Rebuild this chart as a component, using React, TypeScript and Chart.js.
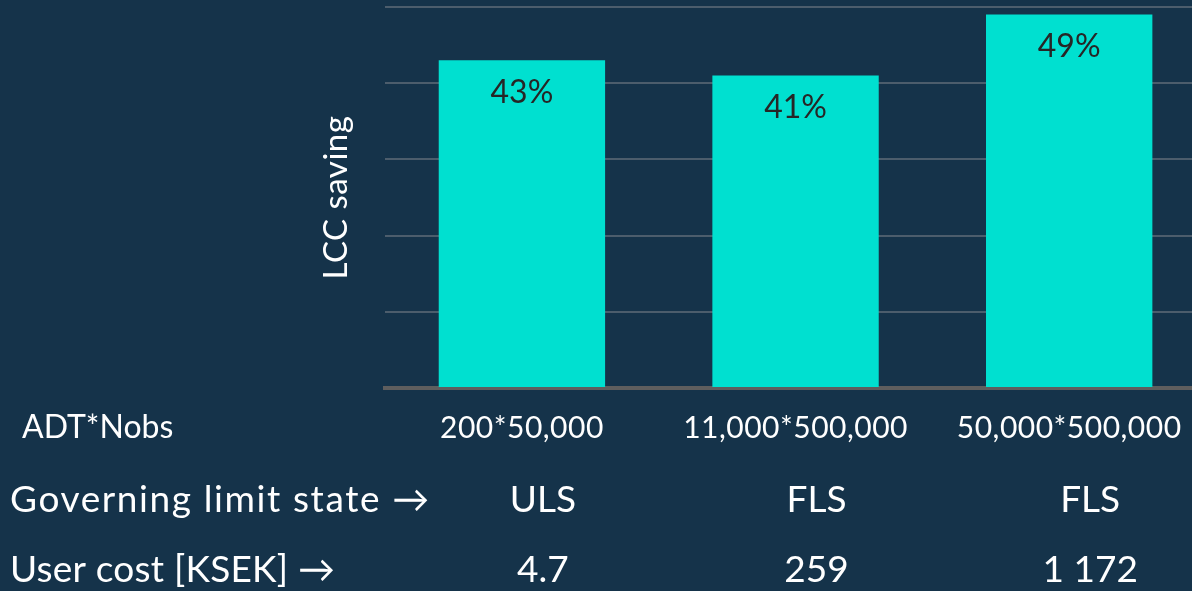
import React, { useEffect, useRef } from "react";
import { Chart, registerables } from "chart.js";

Chart.register(...registerables);

const categories = ["200*50,000", "11,000*500,000", "50,000*500,000"];
const lccSaving = [43, 41, 49];
const rowTitles = ["ADT*Nobs", "Governing limit state \u2192", "User cost [KSEK] \u2192"];
const governingLimitState = ["ULS", "FLS", "FLS"];
const userCost = ["4.7", "259", "1 172"];
const yTicks = [0, 10, 20, 30, 40, 50];

const BG = "#15334a";
const BAR = "#00e0d0";
const FONT = "Lato, 'Open Sans', sans-serif";

export default function App() {
  const ref = useRef<HTMLCanvasElement | null>(null);

  useEffect(() => {
    document.body.style.margin = "0";
    document.body.style.background = BG;
    const canvas = ref.current;
    if (!canvas) return;

    const tablePlugin = {
      id: "tablePlugin",
      beforeDraw(chart: any) {
        (chart.ctx as any).letterSpacing = "0.5px";
      },
      afterDatasetsDraw(chart: any) {
        const ctx = chart.ctx;
        const meta = chart.getDatasetMeta(0);
        ctx.save();
        ctx.letterSpacing = "0px";
        ctx.fillStyle = "#262626";
        ctx.font = `32px ${FONT}`;
        ctx.textAlign = "center";
        ctx.textBaseline = "middle";
        meta.data.forEach((bar: any, i: number) => {
          ctx.fillText(`${lccSaving[i]}%`, bar.x, bar.y + 32);
        });
        ctx.restore();
      },
      afterDraw(chart: any) {
        const ctx = chart.ctx;
        const xs = chart.scales.x;
        ctx.save();
        ctx.fillStyle = "#ffffff";
        ctx.textBaseline = "middle";
        ctx.textAlign = "left";
        ctx.letterSpacing = "0px";
        ctx.font = `32px ${FONT}`;
        ctx.fillText(rowTitles[0], 22, 428);
        ctx.font = `37px ${FONT}`;
        ctx.letterSpacing = "1.6px";
        ctx.fillText(rowTitles[1], 10, 500);
        ctx.letterSpacing = "0.2px";
        ctx.fillText(rowTitles[2], 10, 570);
        ctx.textAlign = "center";
        ctx.letterSpacing = "0px";
        governingLimitState.forEach((t, i) => {
          ctx.fillText(t, xs.getPixelForValue(i) + 21, 500);
        });
        userCost.forEach((t, i) => {
          ctx.fillText(t, xs.getPixelForValue(i) + 21, 570);
        });
        ctx.restore();
      },
    };

    const chart = new Chart(canvas, {
      type: "bar",
      data: {
        labels: categories,
        datasets: [
          {
            data: lccSaving,
            backgroundColor: BAR,
            borderWidth: 0,
            barPercentage: 0.608,
            categoryPercentage: 1,
          },
        ],
      },
      options: {
        animation: false,
        responsive: false,
        maintainAspectRatio: false,
        layout: { padding: { left: 317, top: 7, right: 0, bottom: 123 } },
        plugins: { legend: { display: false }, tooltip: { enabled: false } },
        scales: {
          x: {
            grid: { display: false, drawTicks: false },
            border: { display: true, color: "#5e5e5e", width: 4 },
            ticks: {
              color: "#ffffff",
              font: { family: FONT, size: 30 },
              padding: 22,
              maxRotation: 0,
              autoSkip: false,
            },
          },
          y: {
            min: 0,
            max: 50,
            afterBuildTicks: (axis: any) => {
              axis.ticks = yTicks.map((v) => ({ value: v }));
            },
            grid: { color: "#4c5d6c", lineWidth: 2, drawTicks: false },
            border: { display: false },
            ticks: { display: false },
            title: {
              display: true,
              text: "LCC saving",
              color: "#ffffff",
              font: { family: FONT, size: 33 },
              padding: { top: 0, bottom: 28.5 },
            },
          },
        },
      },
      plugins: [tablePlugin],
    });
    return () => chart.destroy();
  }, []);

  return (
    <div
      style={{
        position: "fixed",
        left: 0,
        top: 0,
        width: 1192,
        height: 591,
        overflow: "hidden",
        background: BG,
      }}
    >
      <canvas ref={ref} width={1206} height={591} style={{ display: "block" }} />
    </div>
  );
}
